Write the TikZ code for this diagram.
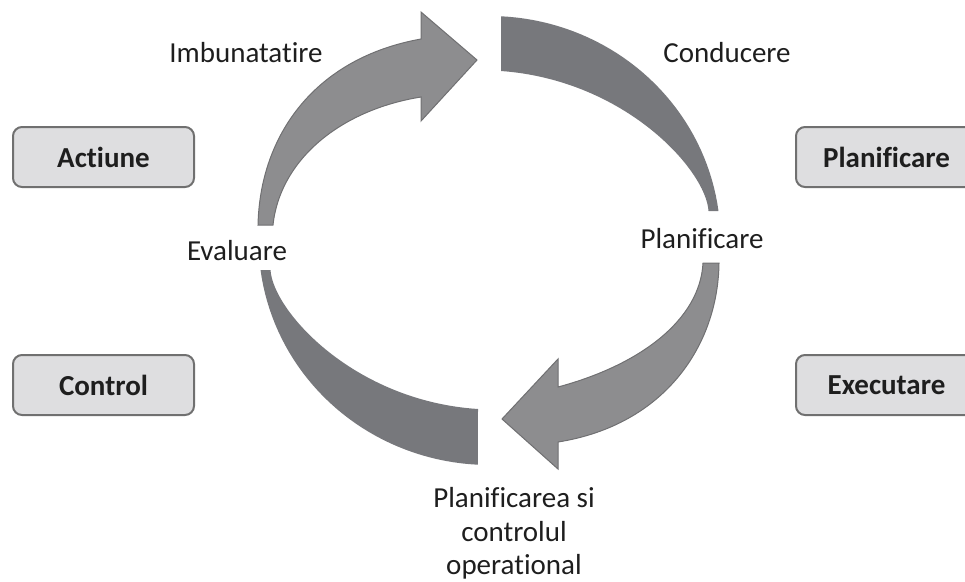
\documentclass[tikz,border=0pt]{standalone}
\usepackage{fontspec}
\setmainfont[Ligatures=NoCommon]{Carlito}
\definecolor{darkband}{RGB}{119,120,124}
\definecolor{lightarrow}{RGB}{141,141,143}
\definecolor{arrowline}{RGB}{112,112,114}
\definecolor{boxfill}{RGB}{222,222,224}
\definecolor{boxline}{RGB}{112,112,112}
\definecolor{txt}{RGB}{30,30,30}
\begin{document}
\begin{tikzpicture}[x=1pt,y=-1pt,
  sidebox/.style={draw=boxline, line width=2pt, fill=boxfill, rounded corners=9pt,
    minimum width=181pt, minimum height=60pt, inner sep=0pt,
    font=\fontsize{29}{34}\selectfont\bfseries, text=txt},
  lbl/.style={anchor=base, inner sep=0pt, font=\fontsize{29}{35}\selectfont, text=txt},
  band/.style={fill=darkband, draw=none},
  curvearrow/.style={fill=lightarrow, draw=arrowline, line width=1pt, line join=miter}]
\useasboundingbox (0,0) rectangle (965,581);
\clip (0,0) rectangle (965,581);

% Conducere band (top right)
\path[band] (501,16)
  plot[domain=87.1:7.55, samples=40, variable=\t] ({489.5+231*cos(\t)},{240.5-224.5*sin(\t)})
  -- (708.5,211) .. controls (706,170) and (625,80) .. (501,71) -- cycle;

% Control band (bottom left)
\path[band] (478,465)
  plot[domain=267.1:187.55, samples=40, variable=\t] ({489.5+231*cos(\t)},{240.5-224.5*sin(\t)})
  -- (270.5,270) .. controls (273,311) and (354,401) .. (478,409) -- cycle;

% Imbunatatire arrow (top left)
\path[curvearrow] (258,225) .. controls (260,135) and (315,58) .. (421,39)
  -- (421,12) -- (477,60) -- (421,121) -- (421,97)
  .. controls (340,110) and (280,160) .. (273,225) -- cycle;

% Executare arrow (bottom right)
\path[curvearrow] (719,263) .. controls (718,345) and (665,425) .. (558,442)
  -- (558,469) -- (502,419) -- (558,359) -- (558,387)
  .. controls (640,365) and (700,320) .. (703,263) -- cycle;

% side boxes
\node[sidebox] (actiune) at (103.5,157) {Actiune};
\node[sidebox] (control) at (103.5,385) {Control};
\node[sidebox] (planif) at (886.5,157) {Planificare};
\node[sidebox] (exec) at (886.5,385) {Executare};

% ring labels
\node[lbl] (imb) at (246,62) {Imbunatatire};
\node[lbl] (cond) at (727,62) {Conducere};
\node[lbl] (eval) at (237,260) {Evaluare};
\node[lbl] (plmid) at (702,248) {Planificare};
\node[lbl] (pc1) at (514,507) {Planificarea si};
\node[lbl] (pc2) at (514,541) {controlul};
\node[lbl] (pc3) at (514,574) {operational};
\end{tikzpicture}
\end{document}
